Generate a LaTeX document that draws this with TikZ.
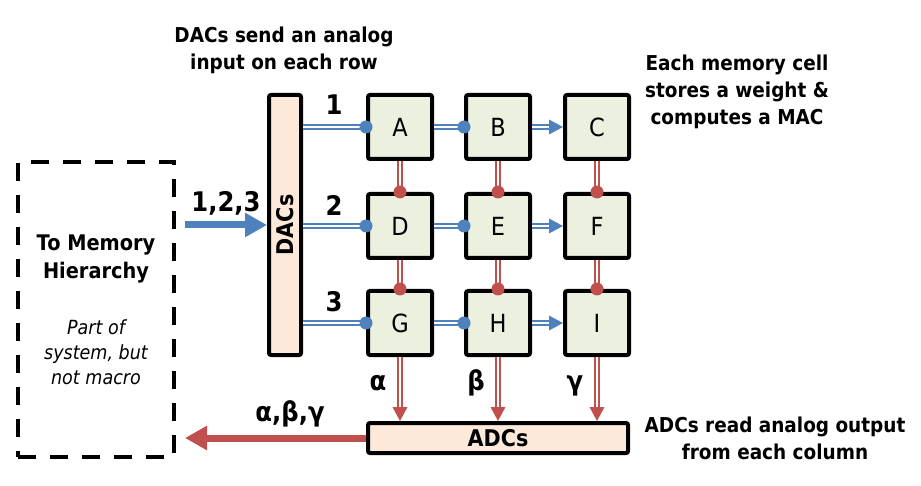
\documentclass[tikz,border=0pt]{standalone}
\usepackage{fontspec}
\setmainfont{DejaVu Sans}[FakeStretch=0.9]
\usetikzlibrary{arrows.meta}
\definecolor{bclr}{HTML}{4F81BD}
\definecolor{rclr}{HTML}{C0504D}
\definecolor{cellfill}{HTML}{EBF1DE}
\definecolor{convfill}{HTML}{FDE9D9}
\tikzset{
  cell/.style={draw=black, line width=4pt, fill=cellfill, minimum size=64pt, rounded corners=2pt, inner sep=0pt, font=\fontsize{25}{25}\selectfont},
  conv/.style={draw=black, line width=4pt, fill=convfill, rounded corners=2pt, inner sep=0pt, font=\bfseries\fontsize{23}{23}\selectfont},
  bline/.style={draw=bclr, line width=1.5pt, double=white, double distance=2.1pt},
  rline/.style={draw=rclr, line width=1.5pt, double=white, double distance=2.1pt},
  bdot/.style={fill=bclr},
  rdot/.style={fill=rclr},
  note/.style={align=center, font=\bfseries\fontsize{20.5}{27}\selectfont},
  lab/.style={font=\bfseries\fontsize{27}{27}\selectfont},
  bigarrow/.style={line width=7pt, -{Triangle[length=22pt,width=23pt]}},
}
\begin{document}
\begin{tikzpicture}[x=1pt,y=-1pt]
\useasboundingbox (0,0) rectangle (921,486);
% memory box
\node[draw=black, line width=4pt, dash pattern=on 18pt off 14pt, minimum width=156pt, minimum height=295pt, inner sep=0pt] (mem) at (96,309.5) {};
\node[note, font=\bfseries\fontsize{21.5}{28}\selectfont] (memt) at (96,259) {To Memory\\Hierarchy};
\node[align=center, font=\itshape\fontsize{19.5}{25}\selectfont] (memi) at (96,352) {Part of\\system, but\\not macro};
% DACs
\node[conv, minimum width=32pt, minimum height=260pt] (dac) at (285,225) {};
\node[rotate=90, font=\bfseries\fontsize{23}{23}\selectfont] (dact) at (dac.center) {DACs};
% ADCs
\node[conv, minimum width=260pt, minimum height=30pt] (adc) at (498,438) {ADCs};
% cells
\foreach \n/\x/\y in {A/400/127, B/498/127, C/597/127, D/400/226, E/498/226, F/597/226, G/400/323, H/498/323, I/597/323}
  \node[cell] (\n) at (\x,\y) {\n};
% horizontal lines
\foreach \a/\b/\c in {A/B/C, D/E/F, G/H/I} {
  \draw[bline] (dac.east |- \a.west) -- (\a.west);
  \fill[bdot] (\a.west) circle (6.5pt);
  \draw[bline] (\a.east) -- (\b.west);
  \fill[bdot] (\b.west) circle (6.5pt);
  \draw[bline] (\b.east) -- ([xshift=-12pt]\c.west);
  \fill[bclr] (\c.west) -- ++(-14,-7.5) -- ++(0,15) -- cycle;
}
% vertical lines
\foreach \a/\b/\c in {A/D/G, B/E/H, C/F/I} {
  \draw[rline] (\a.south) -- (\b.north);
  \fill[rdot] (\b.north) circle (6.5pt);
  \draw[rline] (\b.south) -- (\c.north);
  \fill[rdot] (\c.north) circle (6.5pt);
  \draw[rline] (\c.south) -- ([yshift=12pt]\c.south |- adc.north);
  \fill[rclr] (\c.south |- adc.north) -- ++(-7.5,-14) -- ++(15,0) -- cycle;
}
% row labels
\node[lab] (r1) at (334,105) {1};
\node[lab] (r2) at (334,205) {2};
\node[lab] (r3) at (334,302) {3};
% column labels
\node[lab] (c1) at (378,383) {α};
\node[lab] (c2) at (476,383) {β};
\node[lab] (c3) at (575,386) {γ};
% big arrows
\draw[bigarrow, bclr] ([xshift=9pt]mem.east |- dac.west) -- (dac.west);
\node[lab] (in) at (226,203) {1,2,3};
\draw[bigarrow, rclr] (adc.west) -- ([xshift=9pt]mem.east |- adc.west);
\node[lab] (out) at (290,414) {α,β,γ};
% notes
\node[note] (n1) at (284,50) {DACs send an analog\\input on each row};
\node[note] (n2) at (737,92) {Each memory cell\\stores a weight \&\\computes a MAC};
\node[note] (n3) at (775,438) {ADCs read analog output\\from each column};
\end{tikzpicture}
\end{document}
